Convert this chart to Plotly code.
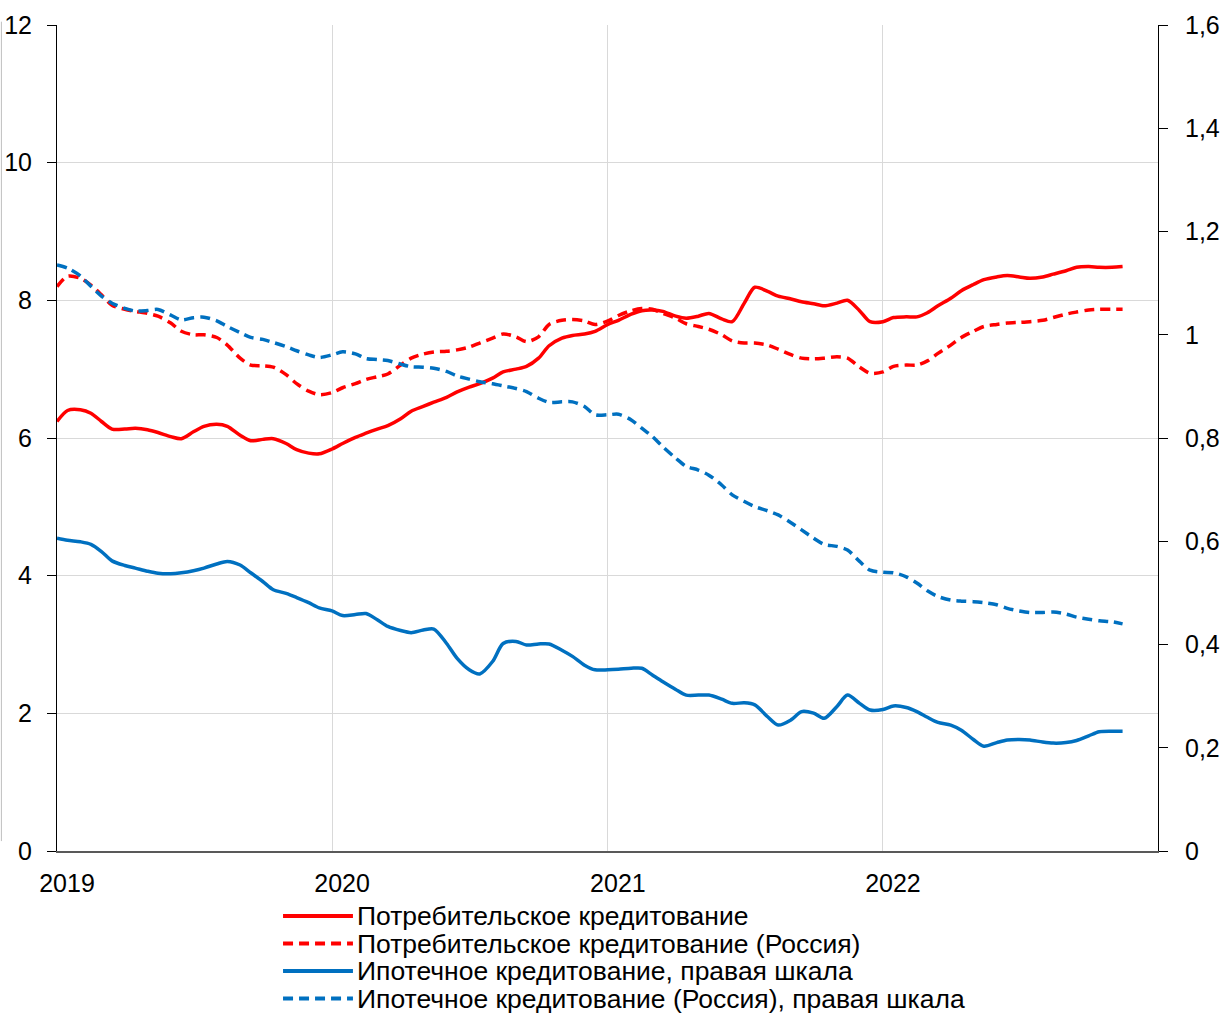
import pandas as pd
import plotly.graph_objects as go

# Semi-monthly observation dates, Jan 2019 - mid Nov 2022
dates = pd.date_range("2019-01-01", "2022-11-15", freq="SMS")

# Consumer lending, left scale
consumer = [
    6.24, 6.40, 6.41, 6.36, 6.24, 6.13, 6.13, 6.14, 6.12, 6.08, 6.02, 5.99,
    6.09, 6.17, 6.20, 6.17, 6.04, 5.96, 5.98, 5.99, 5.92, 5.83, 5.78, 5.77,
    5.84, 5.92, 6.01, 6.07, 6.13, 6.18, 6.28, 6.39, 6.46, 6.52, 6.59, 6.67,
    6.74, 6.79, 6.87, 6.96, 7.00, 7.04, 7.16, 7.34, 7.45, 7.49, 7.51, 7.55,
    7.65, 7.71, 7.80, 7.85, 7.86, 7.84, 7.77, 7.74, 7.77, 7.81, 7.73, 7.69,
    7.96, 8.19, 8.13, 8.06, 8.02, 7.98, 7.95, 7.92, 7.96, 8.00, 7.85, 7.69,
    7.69, 7.75, 7.76, 7.76, 7.82, 7.92, 8.03, 8.14, 8.23, 8.30, 8.34, 8.36,
    8.34, 8.32, 8.34, 8.38, 8.43, 8.48, 8.49, 8.48, 8.48, 8.49,
]

# Consumer lending (Russia), left scale
consumer_ru = [
    8.20, 8.35, 8.32, 8.22, 8.08, 7.93, 7.87, 7.84, 7.81, 7.77, 7.67, 7.55,
    7.50, 7.50, 7.46, 7.35, 7.16, 7.06, 7.05, 7.03, 6.92, 6.79, 6.68, 6.63,
    6.66, 6.73, 6.79, 6.85, 6.89, 6.93, 7.06, 7.16, 7.22, 7.25, 7.26, 7.28,
    7.32, 7.38, 7.45, 7.51, 7.47, 7.40, 7.47, 7.65, 7.71, 7.72, 7.70, 7.65,
    7.70, 7.78, 7.85, 7.88, 7.87, 7.81, 7.74, 7.66, 7.62, 7.58, 7.50, 7.41,
    7.38, 7.38, 7.35, 7.29, 7.21, 7.16, 7.15, 7.16, 7.18, 7.16, 7.03, 6.94,
    6.96, 7.04, 7.06, 7.06, 7.12, 7.23, 7.35, 7.46, 7.55, 7.62, 7.65, 7.67,
    7.68, 7.69, 7.71, 7.75, 7.80, 7.83, 7.86, 7.87, 7.87, 7.87,
]

# Mortgage lending, right scale
mortgage = [
    0.606, 0.602, 0.599, 0.594, 0.580, 0.562, 0.553, 0.548, 0.542, 0.538, 0.537, 0.539,
    0.543, 0.548, 0.556, 0.561, 0.554, 0.539, 0.522, 0.506, 0.499, 0.491, 0.481, 0.471,
    0.465, 0.456, 0.458, 0.460, 0.448, 0.435, 0.427, 0.423, 0.428, 0.430, 0.402, 0.373,
    0.351, 0.343, 0.367, 0.402, 0.406, 0.399, 0.401, 0.401, 0.389, 0.377, 0.360, 0.351,
    0.351, 0.352, 0.354, 0.354, 0.341, 0.328, 0.313, 0.302, 0.302, 0.302, 0.294, 0.286,
    0.287, 0.283, 0.260, 0.244, 0.254, 0.270, 0.267, 0.257, 0.280, 0.302, 0.286, 0.273,
    0.274, 0.281, 0.278, 0.270, 0.259, 0.249, 0.244, 0.234, 0.216, 0.203, 0.210, 0.215,
    0.216, 0.215, 0.211, 0.209, 0.210, 0.214, 0.223, 0.231, 0.232, 0.232,
]

# Mortgage lending (Russia), right scale
mortgage_ru = [
    1.135, 1.129, 1.114, 1.094, 1.075, 1.061, 1.051, 1.046, 1.047, 1.049, 1.038, 1.029,
    1.033, 1.034, 1.027, 1.016, 1.004, 0.995, 0.991, 0.985, 0.977, 0.969, 0.961, 0.956,
    0.961, 0.967, 0.963, 0.954, 0.952, 0.950, 0.943, 0.938, 0.937, 0.935, 0.929, 0.920,
    0.914, 0.909, 0.905, 0.901, 0.896, 0.890, 0.877, 0.869, 0.870, 0.870, 0.861, 0.845,
    0.845, 0.846, 0.835, 0.819, 0.803, 0.783, 0.761, 0.745, 0.738, 0.728, 0.709, 0.690,
    0.677, 0.667, 0.659, 0.651, 0.636, 0.622, 0.606, 0.594, 0.590, 0.583, 0.561, 0.544,
    0.540, 0.539, 0.531, 0.519, 0.504, 0.493, 0.486, 0.484, 0.483, 0.481, 0.477, 0.470,
    0.465, 0.462, 0.462, 0.463, 0.459, 0.453, 0.449, 0.446, 0.444, 0.440,
]

year_ticks = ["2019-01-01", "2020-01-01", "2021-01-01", "2022-01-01"]
year_labels = ["2019", "2020", "2021", "2022"]

names = [
    "Потребительское кредитование",
    "Потребительское кредитование (Россия)",
    "Ипотечное кредитование, правая шкала",
    "Ипотечное кредитование (Россия), правая шкала",
]

FONT = "Liberation Sans, Arial, sans-serif"
RED = "#FF0000"
BLUE = "#0070C0"
DASH = "10px,6px"
LW = 3.5
GRID = "#D9D9D9"
TICK_FONT = dict(family=FONT, size=25, color="black")
KEY_FONT = dict(family=FONT, size=26.5, color="black")

series = [
    (consumer, names[0], RED, "solid", "y"),
    (consumer_ru, names[1], RED, DASH, "y"),
    (mortgage, names[2], BLUE, "solid", "y2"),
    (mortgage_ru, names[3], BLUE, DASH, "y2"),
]

fig = go.Figure()
for values, name, color, dash, axis in series:
    fig.add_trace(go.Scatter(
        x=dates, y=values, name=name, mode="lines", yaxis=axis, showlegend=False,
        line=dict(color=color, width=LW, dash=dash, shape="spline", smoothing=0.8),
    ))

# Key below the chart: a line sample and a caption per series
key_shapes, key_notes = [], []
KEY_X0, KEY_X1, KEY_TEXT_X = 0.2053, 0.2688, 0.2715
KEY_TOP, KEY_STEP = -0.0787, 0.0333
for i, (_, name, color, dash, _) in enumerate(series):
    ky = KEY_TOP - i * KEY_STEP
    key_shapes.append(dict(
        type="line", xref="paper", yref="paper",
        x0=KEY_X0, x1=KEY_X1, y0=ky, y1=ky,
        line=dict(color=color, width=4, dash=dash),
    ))
    key_notes.append(dict(
        xref="paper", yref="paper", x=KEY_TEXT_X, y=ky,
        xanchor="left", yanchor="middle", showarrow=False, borderpad=0,
        text=name, font=KEY_FONT,
    ))

# thin frame mark along the left edge of the chart area
key_shapes.append(dict(
    type="line", xref="paper", yref="paper",
    x0=-0.0505, x1=-0.0505, y0=0.012, y1=1.004,
    line=dict(color="#BFBFBF", width=1),
))

fig.update_layout(
    width=1223, height=1016,
    margin=dict(l=57, r=65, t=25, b=165, autoexpand=False),
    paper_bgcolor="white", plot_bgcolor="white",
    font=dict(family=FONT, size=25, color="black"),
    separators=", ",
    showlegend=False,
    xaxis=dict(
        type="date", range=["2019-01-01", "2023-01-01"],
        tickvals=year_ticks, ticktext=year_labels,
        showgrid=True, gridcolor=GRID, gridwidth=1,
        showline=True, linecolor="#595959", linewidth=2,
        ticks="", tickfont=TICK_FONT, ticklabelshift=10, ticklabelstandoff=9,
        zeroline=False, automargin=False,
    ),
    yaxis=dict(
        range=[0, 12], tick0=0, dtick=2,
        showgrid=True, gridcolor=GRID, gridwidth=1,
        showline=True, linecolor="black", linewidth=1,
        ticks="outside", ticklen=9, tickcolor="black", tickwidth=1,
        tickfont=TICK_FONT, ticklabelstandoff=10, zeroline=False, automargin=False,
    ),
    yaxis2=dict(
        range=[0, 1.6], tick0=0, dtick=0.2, overlaying="y", side="right",
        showgrid=False, showline=True, linecolor="black", linewidth=1,
        ticks="outside", ticklen=9, tickcolor="black", tickwidth=1,
        tickfont=TICK_FONT, ticklabelstandoff=12, zeroline=False, automargin=False,
    ),
    shapes=key_shapes,
    annotations=key_notes,
)

fig.write_html("out.html")
